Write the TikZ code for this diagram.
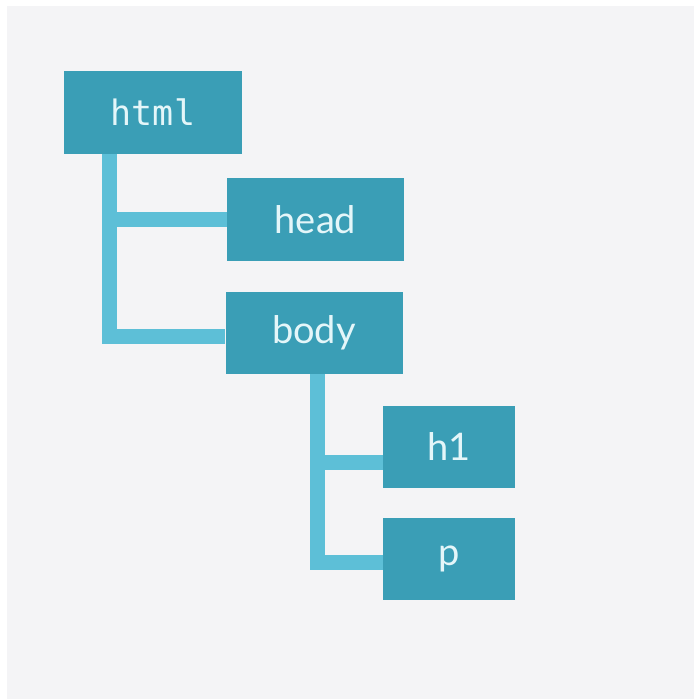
\documentclass[tikz,border=0pt]{standalone}
\usepackage{fontspec}
\setmainfont{Lato}
\setmonofont{DejaVu Sans Mono}
\usepackage{tikz}

\definecolor{pagegray}{HTML}{F4F4F6}
\definecolor{tagfill}{HTML}{3A9EB6}
\definecolor{tagtext}{HTML}{E4F6F9}
\definecolor{linkcolor}{HTML}{5DBFD7}

\tikzset{
  tag/.style={rectangle,fill=tagfill,text=tagtext,inner sep=0pt,
    minimum height=82pt,font=\fontsize{38}{44}\selectfont},
  wide/.style={tag,minimum width=177pt},
  narrow/.style={tag,minimum width=132pt},
  link/.style={draw=linkcolor,line width=15pt}
}

\begin{document}
\begin{tikzpicture}[x=1pt,y=-1pt]
  \fill[white] (0,0) rectangle (694,699);
  \fill[pagegray] (7,6) rectangle (694,699);
  \useasboundingbox (0,0) rectangle (694,699);

  \node at (153,112.5) (html) [wide,minimum width=178pt,minimum height=83pt,
    font=\ttfamily\fontsize{35}{42}\selectfont] {html};
  \node at (315.5,219.5) (head) [wide,minimum height=83pt] {head};
  \node at (314,333) (body) [wide] {body};
  \node at (449,447) (h1) [narrow] {h1};
  \node at (449,559) (p) [narrow] {p};

  \draw[link] ([xshift=45.5pt]html.south west) |- (head.west);
  \draw[link] ([xshift=45.5pt]html.south west) |- ([yshift=-3pt]body.west);
  \draw[link] ([xshift=92pt]body.south west) |- ([yshift=-15pt]h1.west);
  \draw[link] ([xshift=92pt]body.south west) |- ([yshift=-3pt]p.west);
\end{tikzpicture}
\end{document}
